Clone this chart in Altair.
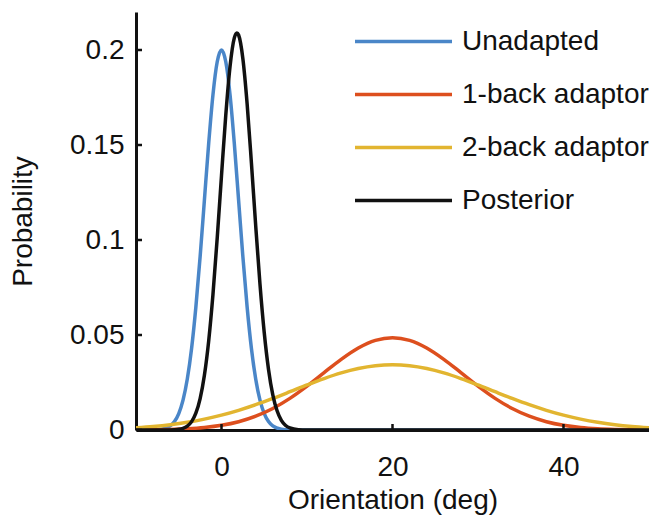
import altair as alt
import pandas as pd

# Series
unadapted_x = [-10, -8, -7, -6, -5.5, -5, -4.5, -4, -3.5, -3, -2.5, -2, -1.5, -1, -0.5, 0,
               0.5, 1, 1.5, 2, 2.5, 3, 3.5, 4, 4.5, 5, 5.5, 6, 7, 8, 10, 50]
unadapted_y = [0, 0.00006, 0.00042, 0.00217, 0.00447, 0.00865, 0.0157, 0.0268, 0.0429, 0.0646,
               0.0912, 0.121, 0.1507, 0.1764, 0.1938, 0.2,
               0.1938, 0.1764, 0.1507, 0.121, 0.0912, 0.0646, 0.0429, 0.0268, 0.0157, 0.00865,
               0.00447, 0.00217, 0.00042, 0.00006, 0, 0]

posterior_x = [-10, -7, -6, -5.5, -5, -4.5, -4, -3.5, -3, -2.5, -2, -1.5, -1, -0.5, 0, 0.5, 1,
               1.5, 1.8, 2, 2.5, 3, 3.5, 4, 4.5, 5, 5.5, 6, 6.5, 7, 7.5, 8, 9, 10, 12, 50]
posterior_y = [0, 0.00001, 0.00005, 0.00014, 0.00036, 0.0009, 0.00206, 0.00441, 0.00883, 0.0165,
               0.0288, 0.0468, 0.0712, 0.1011, 0.1339, 0.1657, 0.1914, 0.2064, 0.209, 0.2079,
               0.1954, 0.1715, 0.1405, 0.1075, 0.0768, 0.0512, 0.0319, 0.0185, 0.0101, 0.0051,
               0.0024, 0.00106, 0.00017, 0.00002, 0, 0]

wide_x = [-10, -8, -6, -4, -2, 0, 2, 4, 6, 8, 10, 12, 14, 16, 18, 20,
          22, 24, 26, 28, 30, 32, 34, 36, 38, 40, 42, 44, 46, 48, 50]
back1_y = [0.00006, 0.00014, 0.00032, 0.00067, 0.00133, 0.00248, 0.00437, 0.00725, 0.01132,
           0.01666, 0.0231, 0.0302, 0.03718, 0.04315, 0.04718, 0.0486,
           0.04718, 0.04315, 0.03718, 0.0302, 0.0231, 0.01666, 0.01132, 0.00725, 0.00437,
           0.00248, 0.00133, 0.00067, 0.00032, 0.00014, 0.00006]
back2_y = [0.00123, 0.00189, 0.00282, 0.00408, 0.00574, 0.00782, 0.01036, 0.01332, 0.01663,
           0.02014, 0.02371, 0.02708, 0.03003, 0.03233, 0.0338, 0.0343,
           0.0338, 0.03233, 0.03003, 0.02708, 0.02371, 0.02014, 0.01663, 0.01332, 0.01036,
           0.00782, 0.00574, 0.00408, 0.00282, 0.00189, 0.00123]

series_names = ["Unadapted", "1-back adaptor", "2-back adaptor", "Posterior"]
series_colors = ["#4A86C8", "#DD4F1E", "#E2B530", "#111111"]

x_ticks = [0, 20, 40]
y_ticks = [0, 0.05, 0.1, 0.15, 0.2]

rows = []
for xs, ys, name in [(unadapted_x, unadapted_y, "Unadapted"),
                     (wide_x, back1_y, "1-back adaptor"),
                     (wide_x, back2_y, "2-back adaptor"),
                     (posterior_x, posterior_y, "Posterior")]:
    for xv, yv in zip(xs, ys):
        rows.append({"x": xv, "y": yv, "series": name, "order": series_names.index(name)})
df = pd.DataFrame(rows)

FONT = "Liberation Sans"
W, H = 513, 418
xscale = alt.Scale(domain=[-10, 50], nice=False, zero=False)
yscale = alt.Scale(domain=[0, 0.22], nice=False)

lines = alt.Chart(df).mark_line(strokeWidth=3.5, interpolate="monotone", clip=True).encode(
    x=alt.X("x:Q", scale=xscale,
            axis=alt.Axis(values=x_ticks, title="Orientation (deg)", ticks=False,
                          labelPadding=23, titlePadding=5, grid=False)),
    y=alt.Y("y:Q", scale=yscale,
            axis=alt.Axis(values=y_ticks, format="~g", title="Probability", ticks=False,
                          labelPadding=12, titlePadding=32, grid=False)),
    color=alt.Color("series:N",
                    scale=alt.Scale(domain=series_names, range=series_colors),
                    legend=alt.Legend(orient="none", legendX=217, legendY=3, title=None,
                                      symbolType="stroke", symbolSize=9409,
                                      symbolStrokeWidth=3.5, labelFontSize=28,
                                      labelFont=FONT, labelColor="#111111", labelLimit=400,
                                      clipHeight=53, rowPadding=0, labelOffset=8)),
    detail="series:N",
    order="order:Q",
)

xt = alt.Chart(pd.DataFrame({"t": x_ticks})).mark_rule(color="#111111", strokeWidth=2.5).encode(
    x=alt.X("t:Q", scale=xscale), y=alt.value(H), y2=alt.value(H - 6))
yt = alt.Chart(pd.DataFrame({"t": y_ticks})).mark_rule(color="#111111", strokeWidth=2.5).encode(
    y=alt.Y("t:Q", scale=yscale), x=alt.value(0), x2=alt.value(6))

chart = alt.layer(lines, xt, yt).properties(
    width=W, height=H,
    autosize=alt.AutoSizeParams(type="none"),
    padding={"left": 128, "top": 4, "right": 0, "bottom": 86},
).configure_view(stroke=None).configure_axis(
    domainColor="#111111", domainWidth=3, labelFont=FONT, titleFont=FONT,
    labelFontSize=28, titleFontSize=28, labelColor="#111111", titleColor="#111111",
    titleFontWeight="normal",
)

chart.save("out.html", embed_options={"renderer": "svg", "actions": False})
